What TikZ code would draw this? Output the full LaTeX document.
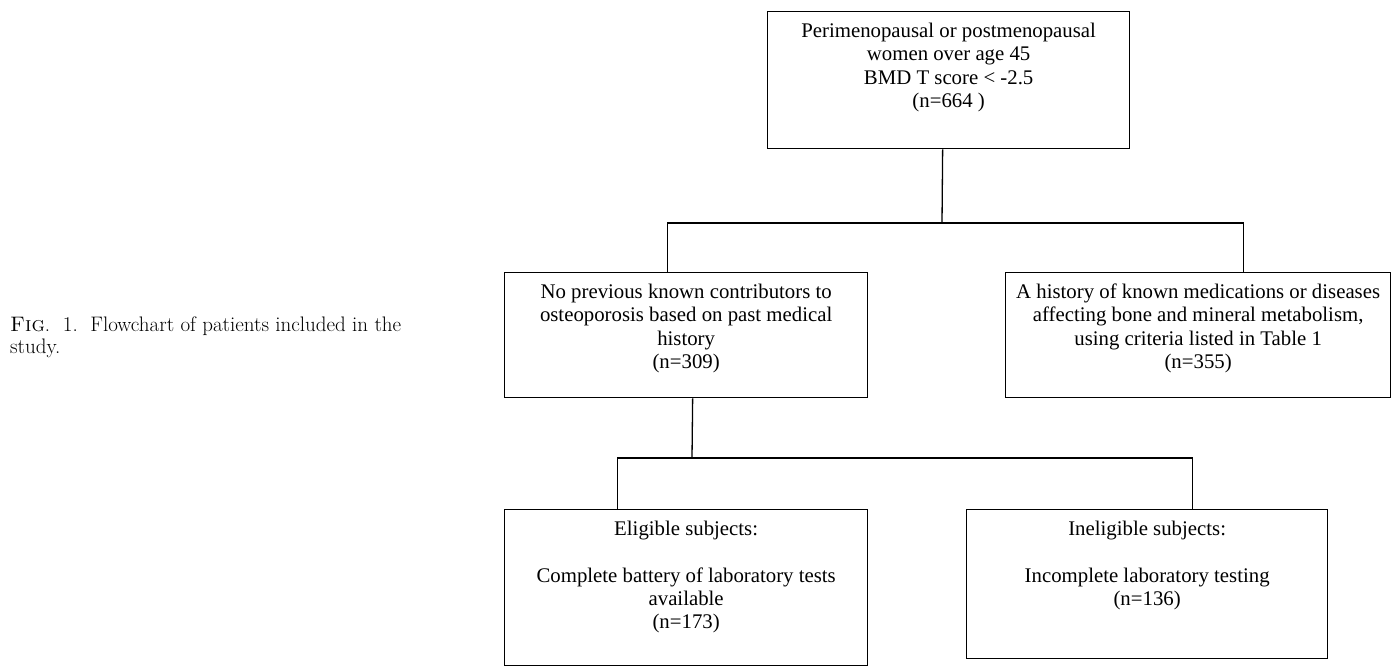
\documentclass[tikz,border=0pt]{standalone}
\usepackage{fontspec}
\newfontfamily\tnr{Liberation Serif}
\newcommand{\boxtext}[3]{\parbox[c][#2][t]{#1}{\centering\rule{0pt}{26pt}#3}}
\tikzset{
  box/.style={draw, line width=1.3pt, inner sep=0pt, anchor=north west,
    font=\tnr\fontsize{20.8}{23.3}\selectfont},
  link/.style={line width=1.3pt},
  captext/.style={anchor=base west, inner sep=0pt, font=\fontsize{21}{22}\selectfont}
}
\begin{document}
\begin{tikzpicture}[x=1pt,y=-1pt]
\useasboundingbox (0,0) rectangle (1397,668);
\node[box] (top) at (767,11) {\boxtext{362pt}{137pt}{Perimenopausal or postmenopausal\\women over age 45\\BMD T score < -2.5\\(n=664 )}};
\node[box] (left) at (504,272) {\boxtext{363pt}{125pt}{No previous known contributors to\\osteoporosis based on past medical\\history\\(n=309)}};
\node[box] (right) at (1005,272) {\boxtext{385pt}{125pt}{A history of known medications or diseases\\affecting bone and mineral metabolism,\\using criteria listed in Table 1\\(n=355)}};
\node[box] (bl) at (504,509) {\boxtext{363pt}{156pt}{Eligible subjects:\\[23.3pt]Complete battery of laboratory tests\\available\\(n=173)}};
\node[box] (br) at (966,509) {\boxtext{361pt}{149pt}{Ineligible subjects:\\[23.3pt]Incomplete laboratory testing\\(n=136)}};
\coordinate (j1) at (942,223);
\coordinate (j2) at (692,458);
\draw[link] ([xshift=-6pt]top.south) -- (j1);
\draw[link] ([xshift=-18.5pt]left.north) |- (j1) -| ([xshift=45.5pt]right.north);
\draw[link] ([xshift=6.5pt]left.south) -- (j2);
\draw[link] ([xshift=-68.5pt]bl.north) |- (j2) -| ([xshift=45.5pt]br.north);
\node[captext] (cap) at (10,331) {\begin{tabular}[t]{@{}l@{}}\textsc{Fig}.\ \ 1.\ \ Flowchart of patients included in the\\study.\end{tabular}};
\end{tikzpicture}
\end{document}
